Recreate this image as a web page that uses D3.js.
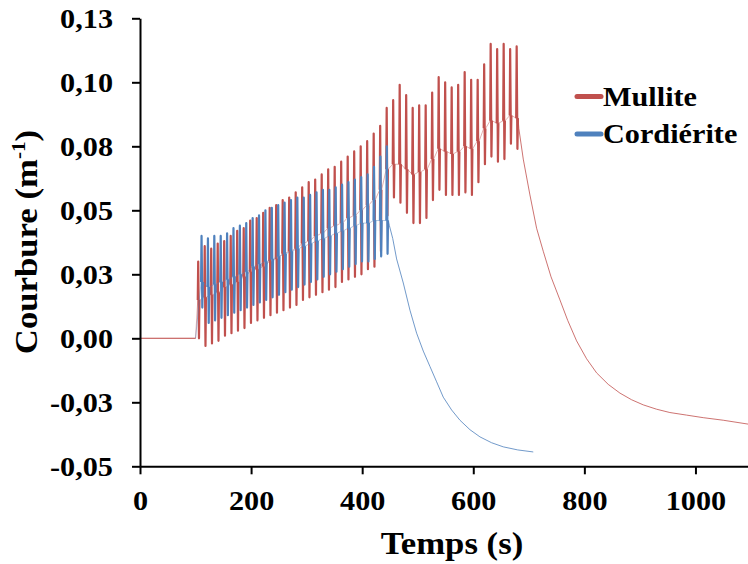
<!DOCTYPE html>
<html><head><meta charset="utf-8">
<script src="https://cdn.jsdelivr.net/npm/d3@7"></script>
<style>body{margin:0;background:#fff}svg{display:block}</style>
</head><body>
<svg id="c" width="748" height="564"></svg>
<script>
const xTicks=[0,200,400,600,800,1000];
const yTicks=[-0.05,-0.025,0,0.025,0.05,0.075,0.1,0.125];
const yTickLabels=["-0,05","-0,03","0,00","0,03","0,05","0,08","0,10","0,13"];
const seriesNames=["Mullite","Cordiérite"];
const seriesColors=["#C0504D","#4F81BD"];

// Mullite: thermal cycles (time of each cycle, spike top, spike bottom, mid level)
const mulliteStart=100;
const mulliteCycleTimes=[104.0,115.7,127.4,139.1,150.8,162.5,174.2,185.9,197.6,209.3,221.0,232.7,244.4,256.1,267.8,279.5,291.2,302.9,314.6,326.3,338.0,349.7,361.4,373.1,384.8,396.5,408.2,419.9,431.6,443.3,455.0,466.7,478.4,490.1,501.8,513.5,525.2,536.9,548.6,560.3,572.0,583.7,595.4,607.1,618.8,630.5,642.2,653.9,665.6,677.3];
const mullitePeaks=[0.030,0.036,0.035,0.037,0.038,0.040,0.042,0.043,0.046,0.047,0.049,0.051,0.052,0.054,0.055,0.057,0.059,0.061,0.062,0.064,0.066,0.067,0.069,0.071,0.073,0.075,0.077,0.080,0.083,0.090,0.093,0.099,0.095,0.090,0.091,0.091,0.096,0.102,0.100,0.098,0.099,0.104,0.101,0.101,0.107,0.115,0.113,0.115,0.113,0.114];
const mulliteTroughs=[0.000,-0.003,-0.002,-0.001,0.001,0.002,0.003,0.004,0.006,0.007,0.008,0.009,0.010,0.011,0.012,0.013,0.015,0.016,0.017,0.018,0.019,0.020,0.022,0.023,0.024,0.025,0.027,0.028,0.034,0.048,0.055,0.053,0.049,0.045,0.045,0.047,0.054,0.058,0.056,0.056,0.056,0.057,0.056,0.061,0.068,0.071,0.069,0.070,0.076,0.074];
const mulliteMids=[0.015,0.016,0.017,0.018,0.020,0.021,0.022,0.024,0.026,0.027,0.028,0.030,0.031,0.033,0.034,0.035,0.037,0.038,0.040,0.041,0.043,0.044,0.045,0.047,0.048,0.050,0.052,0.054,0.058,0.066,0.068,0.068,0.066,0.064,0.065,0.066,0.070,0.074,0.073,0.072,0.073,0.075,0.074,0.077,0.082,0.085,0.084,0.085,0.087,0.086];
const mulliteDecayTimes=[682,690,702,714,726,740,756,770,786,804,822,843,864,885,906,930,954,984,1014,1050,1100];
const mulliteDecayValues=[0.082,0.070,0.056,0.043,0.034,0.024,0.015,0.007,-0.001,-0.008,-0.0135,-0.018,-0.0214,-0.024,-0.026,-0.0277,-0.029,-0.030,-0.031,-0.032,-0.0337];

// Cordiérite
const cordStart=100;
const cordCycleTimes=[110,121.5,133,144.5,156,167.5,179,190.5,202,213.5,225,236.5,248,259.5,271,282.5,294,305.5,317,328.5,340,351.5,363,374.5,386,397.5,409,420.5,432,443.5];
const cordPeaks=[0.040,0.039,0.040,0.040,0.041,0.043,0.044,0.045,0.047,0.048,0.050,0.051,0.052,0.053,0.054,0.055,0.055,0.056,0.057,0.058,0.058,0.059,0.060,0.061,0.062,0.063,0.064,0.067,0.071,0.075];
const cordTroughs=[0.012,0.006,0.007,0.008,0.009,0.010,0.011,0.012,0.013,0.014,0.015,0.016,0.017,0.018,0.019,0.020,0.021,0.022,0.023,0.024,0.025,0.026,0.027,0.028,0.029,0.030,0.030,0.031,0.032,0.033];
const cordMids=[0.022,0.020,0.021,0.022,0.023,0.024,0.025,0.026,0.028,0.029,0.030,0.031,0.032,0.033,0.034,0.035,0.036,0.037,0.038,0.039,0.040,0.041,0.042,0.043,0.044,0.045,0.045,0.046,0.046,0.046];
const cordDecayTimes=[449,455,462,474,486,498,510,522,534,546,561,576,594,612,633,654,680,708];
const cordDecayValues=[0.044,0.039,0.031,0.0216,0.011,0.002,-0.005,-0.011,-0.017,-0.023,-0.028,-0.032,-0.0357,-0.0385,-0.0408,-0.0424,-0.0436,-0.0444];

const FONT='"Liberation Serif","Times New Roman",serif';
const STRETCH=1.12;

const svg=d3.select("#c");
const x=d3.scaleLinear().domain([0,1100]).range([140,751]);
const y=d3.scaleLinear().domain([-0.05,0.125]).range([466.3,18.3]);

// full trace: baseline, cycles, decay
function buildTrace(t0,from0,times,peaks,troughs,mids,dT,dV){
  const pts=[];
  if(from0) pts.push([0,0]);
  pts.push([t0,0]);
  times.forEach((t,i)=>{
    pts.push([t,mids[i]],[t+0.8,peaks[i]],[t+2.2,troughs[i]],[t+3.4,mids[i]]);
  });
  return {pre:pts, decay:[[times[times.length-1]+3.4,mids[mids.length-1]]].concat(dT.map((t,i)=>[t,dV[i]]))};
}
// fast spikes of each cycle (dense, darker)
function buildSpikes(times,peaks,troughs,mids){
  return times.map((t,i)=>[[t,mids[i]],[t+0.8,peaks[i]],[t+2.2,troughs[i]],[t+3.0,mids[i]]]);
}
const line=d3.line().x(d=>x(d[0])).y(d=>y(d[1]));
svg.append("defs").append("clipPath").attr("id","clip").append("rect")
  .attr("x",140).attr("y",0).attr("width",608).attr("height",470);

const series=[
  {trace:buildTrace(mulliteStart,true,mulliteCycleTimes,mullitePeaks,mulliteTroughs,mulliteMids,mulliteDecayTimes,mulliteDecayValues),
   spikes:buildSpikes(mulliteCycleTimes,mullitePeaks,mulliteTroughs,mulliteMids)},
  {trace:buildTrace(cordStart,false,cordCycleTimes,cordPeaks,cordTroughs,cordMids,cordDecayTimes,cordDecayValues),
   spikes:buildSpikes(cordCycleTimes,cordPeaks,cordTroughs,cordMids)}
];

const plot=svg.append("g").attr("clip-path","url(#clip)");
series.forEach((s,i)=>{
  const g=plot.append("g");
  g.append("path").datum(s.trace.pre).attr("d",line).attr("fill","none")
    .attr("stroke",seriesColors[i]).attr("stroke-opacity",0.45).attr("stroke-width",1).attr("stroke-linejoin","round");
  g.selectAll("path.spk").data(s.spikes).enter().append("path").attr("class","spk")
    .attr("d",line).attr("fill","none").attr("stroke",seriesColors[i])
    .attr("stroke-width",2.2).attr("stroke-linejoin","round");
  g.append("path").datum(s.trace.decay).attr("d",line).attr("fill","none")
    .attr("stroke",seriesColors[i]).attr("stroke-opacity",0.8).attr("stroke-width",1);
});
// baseline before the first cycle
plot.append("path").datum([[0,0],[mulliteStart,0]]).attr("d",line).attr("fill","none")
  .attr("stroke",seriesColors[0]).attr("stroke-opacity",0.7).attr("stroke-width",1.2);

// axes
const yAxis=d3.axisLeft(y).tickValues(yTicks).tickFormat((d,i)=>yTickLabels[i]).tickSize(8).tickSizeOuter(0);
const gy=svg.append("g").attr("transform","translate(140,0)").call(yAxis);
gy.select(".domain").attr("stroke","#000").attr("stroke-width",2);
gy.selectAll(".tick line").attr("stroke","#000").attr("stroke-width",2);
gy.selectAll(".tick text").attr("font-family",FONT).attr("font-weight","bold").attr("font-size",27)
  .attr("fill","#000").attr("x",-27/STRETCH).attr("dy","0.35em").attr("transform",`scale(${STRETCH},1)`);

const xAxis=d3.axisBottom(x).tickValues(xTicks).tickFormat(d3.format("d")).tickSize(8).tickSizeOuter(0);
const gx=svg.append("g").attr("transform","translate(0,466.3)").call(xAxis);
gx.select(".domain").attr("stroke","#000").attr("stroke-width",2);
gx.selectAll(".tick line").attr("stroke","#000").attr("stroke-width",2);
gx.selectAll(".tick text").attr("font-family",FONT).attr("font-weight","bold").attr("font-size",27)
  .attr("fill","#000").attr("y",44).attr("dy",null).attr("transform",`scale(${STRETCH},1)`);

// axis titles
svg.append("text").attr("transform",`translate(452,554) scale(${STRETCH},1)`)
  .attr("text-anchor","middle").attr("font-family",FONT).attr("font-weight","bold").attr("font-size",31)
  .text("Temps (s)");
const yl=svg.append("text").attr("transform",`translate(37,242) rotate(-90) scale(${STRETCH},1)`)
  .attr("text-anchor","middle").attr("font-family",FONT).attr("font-weight","bold").attr("font-size",31);
yl.append("tspan").text("Courbure (m");
yl.append("tspan").attr("font-size",19).attr("dy",-12).text("-1");
yl.append("tspan").attr("dy",12).text(")");

// legend
const leg=svg.append("g");
seriesNames.forEach((n,i)=>{
  const yy=96.5+i*37.5;
  leg.append("line").attr("x1",577).attr("x2",601).attr("y1",yy).attr("y2",yy)
    .attr("stroke",seriesColors[i]).attr("stroke-width",5).attr("stroke-linecap","round");
  leg.append("text").attr("transform",`translate(603,${yy+9}) scale(${STRETCH},1)`)
    .attr("font-family",FONT).attr("font-weight","bold").attr("font-size",27).attr("fill","#000").text(n);
});
</script>
</body></html>
